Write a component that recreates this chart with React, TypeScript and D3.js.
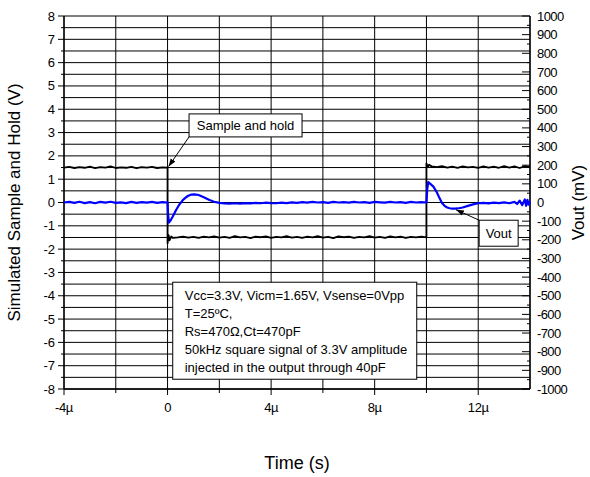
import React from "react";
import * as d3 from "d3";

// ---- data ----
const xTicks = [-4, 0, 4, 8, 12];
const xTickLabels = ["-4\u00b5", "0", "4\u00b5", "8\u00b5", "12\u00b5"];
const leftTicks = [8, 7, 6, 5, 4, 3, 2, 1, 0, -1, -2, -3, -4, -5, -6, -7, -8];
const rightTicks = [1000, 900, 800, 700, 600, 500, 400, 300, 200, 100, 0, -100, -200, -300, -400, -500, -600, -700, -800, -900, -1000];

// Sample and hold (V) vs time (µs)
const sampleHold: [number, number][] = [
  [-4.0, 1.5], [-3.8, 1.53], [-3.6, 1.48], [-3.4, 1.52], [-3.2, 1.49], [-3.0, 1.54], [-2.8, 1.47], [-2.6, 1.52],
  [-2.4, 1.5], [-2.2, 1.55], [-2.0, 1.48], [-1.8, 1.51], [-1.6, 1.49], [-1.4, 1.53], [-1.2, 1.47], [-1.0, 1.52],
  [-0.8, 1.5], [-0.6, 1.53], [-0.4, 1.48], [-0.2, 1.51], [0.0, 1.5],
  [0.0, -1.75], [0.04, -1.4], [0.08, -1.62], [0.14, -1.46], [0.2, -1.52],
  [0.4, -1.5], [0.6, -1.46], [0.8, -1.51], [1.0, -1.47], [1.2, -1.52], [1.4, -1.46], [1.6, -1.5], [1.8, -1.45],
  [2.0, -1.51], [2.2, -1.47], [2.4, -1.52], [2.6, -1.44], [2.8, -1.5], [3.0, -1.47], [3.2, -1.53], [3.4, -1.46],
  [3.6, -1.49], [3.8, -1.45], [4.0, -1.52], [4.2, -1.47], [4.4, -1.5], [4.6, -1.44], [4.8, -1.51], [5.0, -1.47],
  [5.2, -1.52], [5.4, -1.46], [5.6, -1.5], [5.8, -1.44], [6.0, -1.51], [6.2, -1.47], [6.4, -1.53], [6.6, -1.45],
  [6.8, -1.49], [7.0, -1.46], [7.2, -1.52], [7.4, -1.47], [7.6, -1.5], [7.8, -1.44], [8.0, -1.51], [8.2, -1.47],
  [8.4, -1.52], [8.6, -1.45], [8.8, -1.5], [9.0, -1.46], [9.2, -1.52], [9.4, -1.47], [9.6, -1.5], [9.8, -1.46],
  [10.0, -1.5],
  [10.0, 1.68], [10.05, 1.52], [10.1, 1.62], [10.2, 1.55],
  [10.4, 1.52], [10.6, 1.56], [10.8, 1.5], [11.0, 1.54], [11.2, 1.49], [11.4, 1.55], [11.6, 1.51], [11.8, 1.53],
  [12.0, 1.49], [12.2, 1.55], [12.4, 1.5], [12.6, 1.54], [12.8, 1.49], [13.0, 1.56], [13.2, 1.5], [13.4, 1.55],
  [13.6, 1.48], [13.8, 1.56], [14.0, 1.52],
];

// Vout (mV) vs time (µs)
const vout: [number, number][] = [
  [-4.0, 0], [-3.8, 3], [-3.6, -2], [-3.4, 4], [-3.2, -3], [-3.0, 2], [-2.8, -4], [-2.6, 3], [-2.4, -1],
  [-2.2, 4], [-2.0, -2], [-1.8, 1], [-1.6, -3], [-1.4, 3], [-1.2, -2], [-1.0, 2], [-0.8, -1], [-0.6, 3],
  [-0.4, -2], [-0.2, 2], [0.0, 0],
  [0.02, -60], [0.05, -108], [0.12, -95], [0.2, -75], [0.33, -40], [0.45, -12], [0.59, 13], [0.7, 27],
  [0.8, 36], [0.9, 42], [1.04, 44], [1.2, 40], [1.4, 28], [1.62, 13], [1.8, 4], [2.0, -2], [2.2, -5],
  [2.4, -6], [2.6, -4], [2.8, -6], [3.0, -3], [3.2, -5], [3.4, -2], [3.6, -4], [3.8, -1], [4.0, -3],
  [4.2, -4], [4.4, -1], [4.6, -3], [4.8, 1], [5.0, -2], [5.2, 2], [5.4, -1], [5.6, 3], [5.8, 0], [6.0, 2],
  [6.2, -2], [6.4, 3], [6.6, 0], [6.8, 2], [7.0, -1], [7.2, 3], [7.4, 0], [7.6, 2], [7.8, -2], [8.0, 3],
  [8.2, 1], [8.4, -1], [8.6, 3], [8.8, 0], [9.0, 2], [9.2, -2], [9.4, 3], [9.6, 0], [9.8, 2], [10.0, 0],
  [10.03, 70], [10.07, 110], [10.15, 100], [10.27, 85], [10.4, 55], [10.5, 25], [10.6, -3], [10.7, -18],
  [10.8, -27], [10.9, -31], [11.0, -33], [11.1, -33], [11.2, -32], [11.4, -27], [11.6, -18], [11.8, -10],
  [12.0, -4], [12.2, -2], [12.4, -5], [12.6, -1], [12.8, -3], [13.0, 1], [13.2, -4], [13.4, 3], [13.5, -8],
  [13.6, 10], [13.7, -14], [13.8, 16], [13.85, -18], [13.9, 14], [13.95, -12], [14.0, 6],
];

const infoLines = [
  "Vcc=3.3V, Vicm=1.65V, Vsense=0Vpp",
  "T=25\u00baC,",
  "Rs=470\u03a9,Ct=470pF",
  "50kHz square signal of 3.3V amplitude",
  "injected in the output through 40pF",
];

export default function App() {
  const W = 590, H = 477;
  const left = 64, right = 530, top = 16, bottom = 389;
  const x = d3.scaleLinear().domain([-4, 14]).range([left, right]);
  const yL = d3.scaleLinear().domain([-8, 8]).range([bottom, top]);
  const yR = d3.scaleLinear().domain([-1000, 1000]).range([bottom, top]);
  const font = "'Liberation Sans', Arial, sans-serif";

  const shLine = d3.line<[number, number]>().x(d => x(d[0])).y(d => yL(d[1]));
  const voLine = d3.line<[number, number]>().x(d => x(d[0])).y(d => yR(d[1]));

  const hGrid = d3.range(-8, 8.01, 0.5);
  const vGrid = d3.range(-4, 14.01, 2);
  const leftMinor = d3.range(-7.5, 8, 1);
  const rightMinor = d3.range(-950, 1000, 100);
  const xMinor = [-2, 2, 6, 10];

  // annotations
  const shTarget = { x: x(0), y: yL(1.5) };
  const shBox = { x: x(0.83), y: yL(3.8), w: 113, h: 23 };
  const voTarget = { x: x(11.1), y: yR(-33) };
  const voBox = { x: x(13.6) - 41 + 0.5, y: yR(-95), w: 39, h: 26 };
  const infoBox = { x: x(0.2), y: yL(-3.42), w: 244, h: 97 };

  return (
    <svg width={W} height={H} style={{ position: "absolute", left: 0, top: 0, background: "#fff" }}
      fontFamily={font}>
      <defs>
        <marker id="arr" viewBox="0 0 10 10" refX="10" refY="5" markerWidth="8" markerHeight="8" orient="auto-start-reverse" markerUnits="userSpaceOnUse">
          <path d="M0,1.5 L10,5 L0,8.5 Z" fill="#000" />
        </marker>
      </defs>
      <rect x={0} y={0} width={W} height={H} fill="#fff" />
      {/* grid */}
      {hGrid.map(v => (
        <line key={"h" + v} x1={left} x2={right} y1={yL(v)} y2={yL(v)} stroke="#000" strokeWidth={1} />
      ))}
      {vGrid.map(v => (
        <line key={"v" + v} x1={x(v)} x2={x(v)} y1={top} y2={bottom} stroke="#000" strokeWidth={1} />
      ))}
      {/* axes */}
      <line x1={left} x2={left} y1={top} y2={bottom} stroke="#000" strokeWidth={1.3} />
      <line x1={right} x2={right} y1={top} y2={bottom} stroke="#000" strokeWidth={1.3} />
      <line x1={left} x2={right} y1={bottom} y2={bottom} stroke="#000" strokeWidth={1.3} />
      {leftTicks.map(v => (
        <g key={"lt" + v}>
          <line x1={left - 6} x2={left} y1={yL(v)} y2={yL(v)} stroke="#000" />
          <text x={55} y={yL(v)} dy="0.35em" textAnchor="end" fontSize={13}>{v}</text>
        </g>
      ))}
      {leftMinor.map(v => (
        <line key={"lm" + v} x1={left - 3} x2={left} y1={yL(v)} y2={yL(v)} stroke="#000" />
      ))}
      {rightTicks.map(v => (
        <g key={"rt" + v}>
          <line x1={right - 8} x2={right} y1={yR(v)} y2={yR(v)} stroke="#000" />
          <text x={537} y={yR(v)} dy="0.35em" textAnchor="start" fontSize={13} letterSpacing={-0.6}>{v}</text>
        </g>
      ))}
      {rightMinor.map(v => (
        <line key={"rm" + v} x1={right - 3} x2={right} y1={yR(v)} y2={yR(v)} stroke="#000" />
      ))}
      {xTicks.map((v, i) => (
        <g key={"xt" + v}>
          <line x1={x(v)} x2={x(v)} y1={bottom} y2={bottom + 6} stroke="#000" />
          <text x={x(v)} y={412} textAnchor="middle" fontSize={13} letterSpacing={-0.4}>{xTickLabels[i]}</text>
        </g>
      ))}
      {xMinor.map(v => (
        <line key={"xm" + v} x1={x(v)} x2={x(v)} y1={bottom} y2={bottom + 4} stroke="#000" />
      ))}
      {/* series */}
      <path d={shLine(sampleHold) || ""} fill="none" stroke="#000" strokeWidth={1.8} strokeLinejoin="round" />
      <path d={voLine(vout) || ""} fill="none" stroke="#0000ff" strokeWidth={2.2} strokeLinejoin="round" />
      {/* annotations */}
      <line x1={shBox.x} y1={shBox.y + shBox.h} x2={shTarget.x + 1} y2={shTarget.y - 1} stroke="#000" strokeWidth={1} markerEnd="url(#arr)" />
      <rect x={shBox.x} y={shBox.y} width={shBox.w} height={shBox.h} fill="#fff" stroke="#000" strokeWidth={1} />
      <text x={shBox.x + shBox.w / 2} y={shBox.y + shBox.h / 2} dy="0.35em" textAnchor="middle" fontSize={13}>Sample and hold</text>

      <line x1={voBox.x} y1={voBox.y} x2={voTarget.x + 1} y2={voTarget.y + 1} stroke="#000" strokeWidth={1} markerEnd="url(#arr)" />
      <rect x={voBox.x} y={voBox.y} width={voBox.w} height={voBox.h} fill="#fff" stroke="#000" strokeWidth={1} />
      <text x={voBox.x + voBox.w / 2} y={voBox.y + voBox.h / 2} dy="0.35em" textAnchor="middle" fontSize={13}>Vout</text>

      <rect x={infoBox.x} y={infoBox.y} width={infoBox.w} height={infoBox.h} fill="#fff" stroke="#000" strokeWidth={1} />
      {infoLines.map((s, i) => (
        <text key={"il" + i} x={infoBox.x + 12} y={infoBox.y + 13 + i * 18} dy="0.35em" fontSize={13}>{s}</text>
      ))}
      {/* titles */}
      <text x={297} y={463} dy="0.35em" textAnchor="middle" fontSize={18}>Time (s)</text>
      <text transform={`translate(14, ${(top + bottom) / 2}) rotate(-90)`} dy="0.35em" textAnchor="middle" fontSize={17}>Simulated Sample and Hold (V)</text>
      <text transform={`translate(578, ${(top + bottom) / 2}) rotate(-90)`} dy="0.35em" textAnchor="middle" fontSize={17}>Vout (mV)</text>
    </svg>
  );
}
